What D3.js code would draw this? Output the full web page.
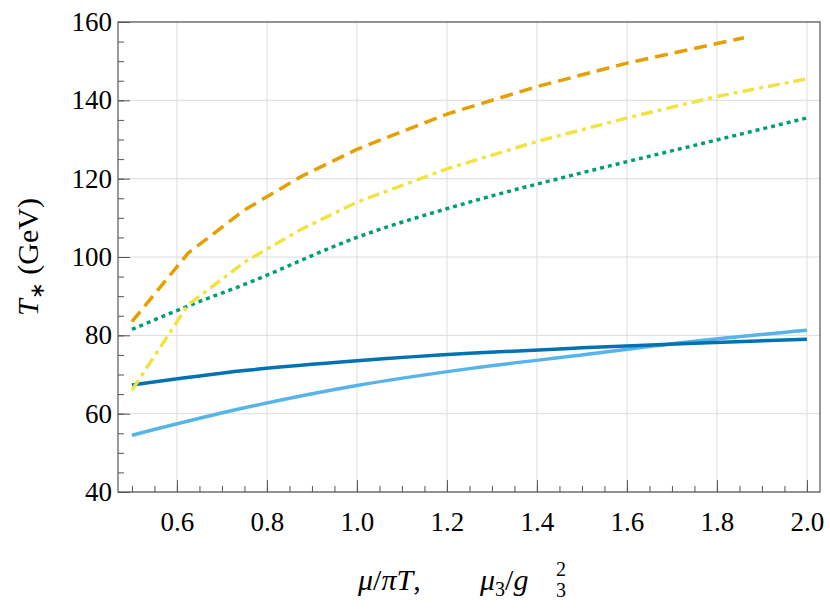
<!DOCTYPE html>
<html><head><meta charset="utf-8">
<script src="https://cdn.jsdelivr.net/npm/d3@7"></script>
<style>body{margin:0;background:#fff}text{font-family:"Liberation Serif",serif}</style>
</head><body><div class="canvas"></div>
<script>
// values: [x, T*]
var orangeDashed = [[0.5,83.5],[0.625,101],[0.75,112],[0.875,120.5],[1.0,127.5],[1.2,136.5],[1.4,143.5],[1.6,149.5],[1.8,154.5],[1.86,156]];
var yellowDashDot = [[0.5,66],[0.625,87.8],[0.75,98.7],[0.875,107],[1.0,114],[1.2,122.5],[1.4,129.5],[1.6,135.5],[1.8,141],[2.0,145.5]];
var greenDotted = [[0.5,81.5],[0.625,87.5],[0.75,93],[1.0,105],[1.25,114],[1.5,121.5],[1.75,128.5],[2.0,135.5]];
var darkBlue = [[0.5,67.3],[0.75,71],[1.0,73.5],[1.25,75.4],[1.5,76.8],[1.75,78],[2.0,79]];
var lightBlue = [[0.5,54.5],[0.75,61.5],[1.0,67.2],[1.25,71.5],[1.5,75],[1.75,78.5],[2.0,81.3]];
var xTicks = [0.6,0.8,1.0,1.2,1.4,1.6,1.8,2.0];
var yTicks = [40,60,80,100,120,140,160];

var W = 830, H = 613, L = 118, R = 820, T = 22, B = 492;
var svg = d3.select('.canvas').append('svg').attr('width', W).attr('height', H);

var x = d3.scaleLinear().domain([0.469, 2.029]).range([L, R]);
var y = d3.scaleLinear().domain([40, 160]).range([B, T]);

//grid
svg.append('g').selectAll('line').data(xTicks).enter().append('line')
    .attr('x1', d => x(d)).attr('x2', d => x(d)).attr('y1', T).attr('y2', B)
    .attr('stroke', '#ddd').attr('stroke-width', 1);
svg.append('g').selectAll('line').data(yTicks).enter().append('line')
    .attr('x1', L).attr('x2', R).attr('y1', d => y(d)).attr('y2', d => y(d))
    .attr('stroke', '#ddd').attr('stroke-width', 1);

var smooth = d3.line().x(d => x(d[0])).y(d => y(d[1])).curve(d3.curveMonotoneX);
var straight = d3.line().x(d => x(d[0])).y(d => y(d[1]));
var series = [
    {d: lightBlue, c: '#56B4E9', dash: null, l: smooth},
    {d: darkBlue, c: '#0072B2', dash: null, l: smooth},
    {d: greenDotted, c: '#009E73', dash: '4,4', l: smooth},
    {d: yellowDashDot, c: '#F0E442', dash: '12,5,4,5', l: straight},
    {d: orangeDashed, c: '#E69F00', dash: '13,7', l: straight}
];
series.forEach(function(s){
    svg.append('path').datum(s.d).attr('d', s.l).attr('fill', 'none')
        .attr('stroke', s.c).attr('stroke-width', 3.5)
        .attr('stroke-dasharray', s.dash);
});

//frame
svg.append('rect').attr('x', L).attr('y', T).attr('width', R - L).attr('height', B - T)
    .attr('fill', 'none').attr('stroke', '#555').attr('stroke-width', 1.2);

//axes
var xAxis = d3.axisBottom(x).tickValues(xTicks).tickFormat(d3.format('.1f')).tickSize(-12).tickPadding(20);
var xMinor = d3.axisBottom(x).tickValues(d3.range(0.5, 2.01, 0.05)).tickFormat('').tickSize(-6);
var yAxis = d3.axisLeft(y).tickValues(yTicks).tickSize(-12).tickPadding(6);
var yMinor = d3.axisLeft(y).tickValues(d3.range(40, 161, 5)).tickFormat('').tickSize(-6);
[[xMinor,'b'],[xAxis,'b'],[yMinor,'l'],[yAxis,'l']].forEach(function(a){
    var g = svg.append('g').attr('transform', a[1] == 'b' ? 'translate(0,' + B + ')' : 'translate(' + L + ',0)').call(a[0]);
    g.select('.domain').remove();
    g.selectAll('line').attr('stroke', '#555');
    g.selectAll('text').attr('font-size', 27).attr('fill', '#000').style('font-family', '"Liberation Serif",serif');
});

//labels
var xl = svg.append('g').attr('font-size', 30);
xl.append('text').attr('x', 358).attr('y', 590)
    .html('<tspan font-style="italic">μ</tspan>/<tspan font-style="italic">πT</tspan>,');
xl.append('text').attr('x', 480).attr('y', 590)
    .html('<tspan font-style="italic">μ</tspan><tspan font-size="20" dy="6">3</tspan><tspan dy="-6">/</tspan><tspan font-style="italic">g</tspan>');
xl.append('text').attr('x', 556).attr('y', 576).attr('font-size', 20).text('2');
xl.append('text').attr('x', 556).attr('y', 597).attr('font-size', 20).text('3');
svg.append('text').attr('transform', 'translate(38,257) rotate(-90)').attr('text-anchor', 'middle').attr('font-size', 30)
    .html('<tspan font-style="italic">T</tspan><tspan font-size="20" dy="6">∗</tspan><tspan dy="-6"> (GeV)</tspan>');
</script>
</body></html>
